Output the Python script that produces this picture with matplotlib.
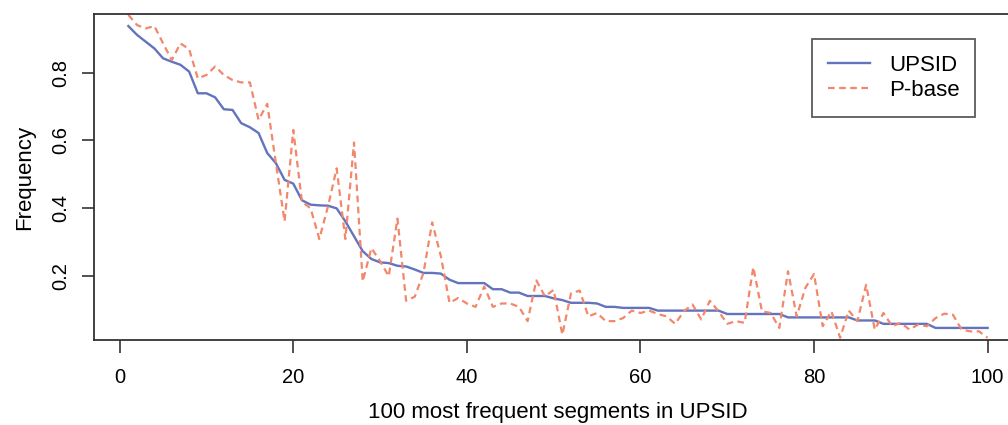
import numpy as np
import matplotlib
matplotlib.use("Agg")
from matplotlib import pyplot as plt

plt.rcParams['font.family'] = ['Liberation Sans', 'DejaVu Sans']

# rank of segment (1..100)
ranks = list(range(1, 101))

# frequency in UPSID (sorted)
upsid = [0.937, 0.911, 0.891, 0.871, 0.842, 0.832, 0.823, 0.803, 0.739, 0.739,
         0.727, 0.692, 0.690, 0.651, 0.639, 0.622, 0.563, 0.533, 0.484, 0.473,
         0.424, 0.411, 0.409, 0.408, 0.400, 0.362, 0.318, 0.274, 0.251, 0.241,
         0.239, 0.231, 0.229, 0.220, 0.210, 0.210, 0.208, 0.190, 0.180, 0.180,
         0.180, 0.180, 0.162, 0.162, 0.152, 0.152, 0.142, 0.142, 0.142, 0.135,
         0.130, 0.122, 0.122, 0.122, 0.120, 0.110, 0.110, 0.107, 0.107, 0.107,
         0.107, 0.099, 0.099, 0.099, 0.099, 0.099, 0.099, 0.099, 0.099, 0.089,
         0.089, 0.089, 0.089, 0.089, 0.089, 0.089, 0.079, 0.079, 0.079, 0.079,
         0.079, 0.079, 0.079, 0.079, 0.070, 0.070, 0.070, 0.060, 0.060, 0.060,
         0.060, 0.060, 0.060, 0.048, 0.048, 0.048, 0.048, 0.048, 0.048, 0.048]

# frequency of the same segments in P-base
pbase = [0.970, 0.940, 0.930, 0.937, 0.886, 0.837, 0.886, 0.869, 0.783, 0.793,
         0.818, 0.793, 0.778, 0.771, 0.771, 0.661, 0.708, 0.533, 0.362, 0.631,
         0.420, 0.400, 0.310, 0.406, 0.518, 0.310, 0.594, 0.185, 0.283, 0.245,
         0.200, 0.370, 0.128, 0.140, 0.210, 0.359, 0.260, 0.122, 0.136, 0.120,
         0.110, 0.170, 0.110, 0.120, 0.120, 0.110, 0.068, 0.188, 0.141, 0.160,
         0.028, 0.150, 0.158, 0.082, 0.092, 0.068, 0.068, 0.077, 0.099, 0.092,
         0.099, 0.089, 0.082, 0.060, 0.097, 0.117, 0.073, 0.128, 0.097, 0.060,
         0.068, 0.063, 0.227, 0.097, 0.092, 0.048, 0.215, 0.082, 0.166, 0.207,
         0.053, 0.097, 0.019, 0.099, 0.068, 0.175, 0.043, 0.092, 0.053, 0.063,
         0.043, 0.058, 0.053, 0.077, 0.090, 0.087, 0.043, 0.038, 0.038, 0.019]

fig = plt.figure(figsize=(10.08, 4.25), dpi=100)
ax = fig.add_axes([94 / 1008, 85 / 425, 928 / 1008, 326 / 425])

ax.plot(ranks, upsid, color='#6373bd', lw=1.7, label='UPSID')
ax.plot(ranks, pbase, color='#f2876b', lw=1.6, linestyle=(0, (3, 2)), label='P-base')

# R-style limits: 4% padding on range of first series
xr = max(ranks) - min(ranks)
ax.set_xlim(min(ranks) - 0.04 * xr, max(ranks) + 0.04 * xr)
yr = max(upsid) - min(upsid)
ax.set_ylim(min(upsid) - 0.04 * yr, max(upsid) + 0.04 * yr)

ax.set_xticks([0, 20, 40, 60, 80, 100])
ax.set_yticks([0.2, 0.4, 0.6, 0.8])
ax.set_yticklabels(['0.2', '0.4', '0.6', '0.8'], rotation=90, va='center', ha='right')

for s in ax.spines.values():
    s.set_color('#333333')
    s.set_linewidth(1.3)
ax.tick_params(direction='out', length=9, width=1.2, color='#333333',
               labelsize=14.5)
ax.tick_params(axis='x', pad=11)
ax.tick_params(axis='y', pad=8)

ax.set_xlabel('100 most frequent segments in UPSID', fontsize=16, labelpad=11)
ax.set_ylabel('Frequency', fontsize=16, labelpad=12)

leg = ax.legend(loc='upper right', bbox_to_anchor=(975 / 1008, 1 - 39 / 425),
                bbox_transform=fig.transFigure, borderaxespad=0, fontsize=16,
                frameon=True, fancybox=False, handlelength=1.9, handletextpad=0.85,
                borderpad=0.7, labelspacing=0.2)
leg.get_frame().set_edgecolor('#333333')
leg.get_frame().set_linewidth(1.3)

plt.savefig('out.png', dpi=100)
